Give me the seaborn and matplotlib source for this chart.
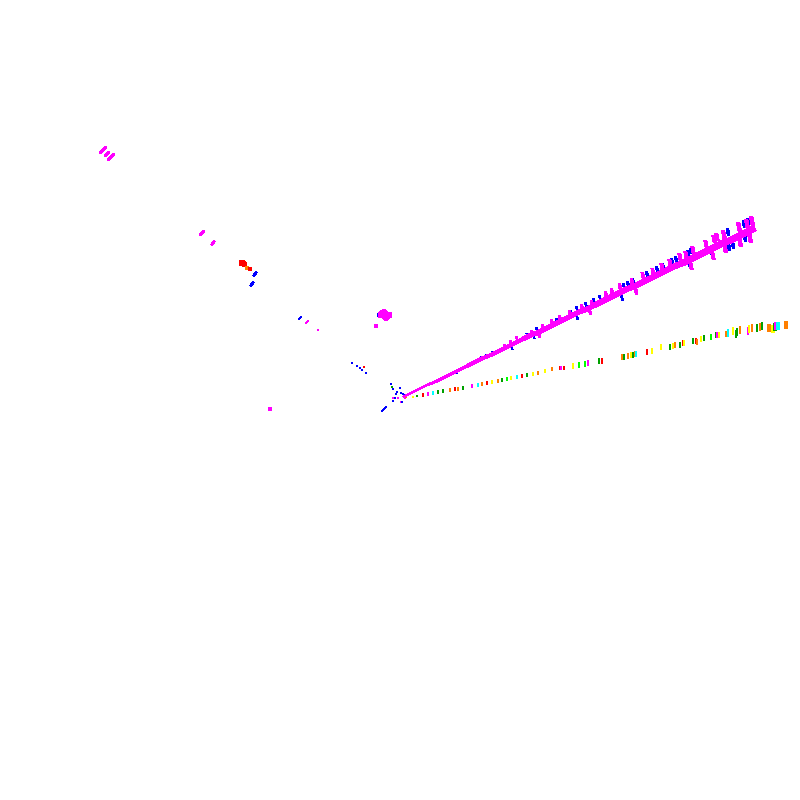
import numpy as np
import pandas as pd
import seaborn as sns
import matplotlib
matplotlib.use('Agg')
import matplotlib.pyplot as plt
from matplotlib.path import Path

# upper streak, centre line
streak_x = [403, 411, 419, 427, 435, 443, 451, 459, 467, 475, 483, 491, 499, 507, 515,
            523, 531, 539, 547, 555, 563, 571, 579, 587, 595, 603, 611, 619, 627, 635,
            643, 651, 659, 667, 675, 683, 691, 699, 707, 715, 723, 731, 739, 747, 755]
streak_y = [397, 393, 389, 385, 382, 378, 374, 370, 366, 362, 358, 355, 351, 347, 343,
            339, 335, 332, 328, 324, 320, 316, 312, 309, 305, 301, 297, 293, 289, 286,
            282, 278, 274, 270, 266, 263, 259, 255, 251, 247, 243, 240, 236, 232, 228]

# short marks either side of the streak
pink_ticks_x = [505, 511, 517, 532, 543, 552, 560, 570, 582, 592, 606, 612, 620, 632,
                643, 653, 662, 670, 680, 686, 693, 706, 714, 717, 724, 739, 747, 752,
                539, 590, 636, 691, 713, 725, 740, 750]
pink_ticks_y = [347, 343, 339, 333, 327, 322, 318, 313, 307, 303, 295, 292, 287, 282,
                276, 272, 267, 263, 257, 255, 250, 244, 239, 237, 235, 227, 224, 221,
                335, 312, 291, 266, 256, 248, 242, 238]
blue_ticks_x = [457, 459, 468, 472, 477, 482, 487, 493, 527, 537, 557, 571, 577, 586,
                594, 600, 620, 624, 628, 633, 647, 657, 663, 672, 676, 688, 691, 728,
                739, 744, 748, 512, 534, 577, 622, 689, 712, 729, 733, 745]
blue_ticks_y = [372, 370, 366, 363, 361, 358, 356, 353, 335, 330, 321, 313, 309, 305,
                301, 298, 287, 286, 284, 281, 274, 269, 266, 261, 259, 253, 251, 232,
                226, 224, 222, 348, 337, 317, 298, 264, 253, 247, 245, 238]

# lower, multicoloured streak
rainbow_x = [413, 417, 423, 428, 433, 438, 443, 450, 455, 458, 463, 472, 478, 482, 487,
             492, 498, 502, 507, 511, 517, 522, 527, 533, 538, 545, 552, 560, 561, 564,
             573, 579, 585, 588, 599, 602, 622, 624, 628, 631, 633, 635, 636, 647, 652,
             661, 670, 673, 675, 680, 683, 684, 693, 696, 697, 701, 704, 711, 716, 717,
             719, 726, 728, 733, 736, 737, 740, 748, 749, 752, 757, 760, 762, 769, 773,
             775, 776, 778, 786]
rainbow_y = [397, 396, 395, 394, 393, 392, 391, 390, 389, 389, 388, 386, 385, 384, 383,
             382, 381, 380, 379, 378, 377, 376, 375, 374, 373, 371, 369, 368, 368, 368,
             366, 365, 364, 363, 361, 361, 357, 357, 356, 355, 355, 354, 354, 352, 351,
             347, 347, 346, 345, 345, 343, 343, 341, 341, 342, 339, 338, 337, 335, 335,
             335, 334, 333, 331, 334, 332, 330, 331, 329, 328, 328, 327, 326, 328, 329,
             327, 326, 326, 325]
rainbow_hue = ['yellow', 'green', 'red', 'magenta', 'cyan', 'green', 'green', 'orange', 'red', 'orange',
               'green', 'magenta', 'cyan', 'orange', 'red', 'yellow', 'orange', 'green', 'lime', 'yellow',
               'cyan', 'red', 'green', 'yellow', 'orange', 'yellow', 'orange', 'red', 'magenta', 'red',
               'yellow', 'lime', 'lime', 'magenta', 'green', 'red', 'orange', 'green', 'orange', 'yellow',
               'green', 'orange', 'cyan', 'red', 'yellow', 'yellow', 'green', 'yellow', 'orange', 'green',
               'red', 'yellow', 'green', 'red', 'orange', 'yellow', 'green', 'lime', 'green', 'magenta',
               'yellow', 'orange', 'cyan', 'yellow', 'green', 'green', 'orange', 'magenta', 'yellow', 'orange',
               'green', 'orange', 'green', 'orange', 'yellow', 'green', 'magenta', 'cyan', 'orange']

# diagonal dashes in the stray clusters
dash_x = [103, 107, 111, 202, 213, 255, 252, 300, 307, 383, 385]
dash_y = [150, 154, 157, 233, 243, 274, 284, 318, 322, 410, 408]
dash_hue = ['magenta', 'magenta', 'magenta', 'magenta', 'magenta', 'blue', 'blue',
            'blue', 'magenta', 'blue', 'blue']
dash_size = [8, 6, 8, 6, 5, 5, 5, 3, 4, 4, 4]

# round blobs and single pixels
dot_x = [242, 244, 247, 250, 318, 270, 376, 379, 381, 383, 385, 387, 389, 384, 386,
         352, 357, 360, 362, 366, 364, 391, 392, 393, 397, 400, 401, 403, 396, 404,
         393, 395, 398, 401, 402, 393, 405, 406]
dot_y = [263, 264, 268, 269, 330, 409, 326, 315, 315, 314, 315, 316, 315, 312, 318,
         363, 366, 368, 370, 373, 367, 384, 387, 389, 392, 388, 393, 394, 394, 395,
         398, 398, 398, 402, 402, 401, 398, 397]
dot_hue = ['red', 'red', 'orange', 'red', 'magenta', 'magenta', 'magenta', 'blue', 'magenta',
           'magenta', 'magenta', 'magenta', 'magenta', 'magenta', 'magenta',
           'blue', 'blue', 'blue', 'blue', 'blue', 'red', 'blue', 'green', 'blue', 'blue',
           'blue', 'blue', 'blue', 'blue', 'blue', 'magenta', 'blue', 'magenta', 'magenta',
           'blue', 'blue', 'magenta', 'orange']
dot_size = [6, 5, 4, 4, 2, 3, 3, 3, 6, 8, 8, 7, 6, 5, 5,
            2, 2, 2, 2, 2, 2, 2, 2, 2, 2, 2, 2, 2, 2, 2,
            2, 2, 2, 2, 2, 2, 2, 2]

colors = {'red': '#ff0000', 'orange': '#ff7f00', 'yellow': '#ffff00', 'lime': '#00ff00',
          'green': '#00a000', 'cyan': '#00ffff', 'magenta': '#ff00ff', 'blue': '#0000ff'}

# marks get bigger further from the point where the streaks meet
origin_x = 403
slant = Path([(-0.6, 1), (0.2, 1), (0.6, -1), (-0.2, -1), (-0.6, 1)], closed=True)
bar = Path([(-0.4, -1), (0.4, -1), (0.4, 1), (-0.4, 1), (-0.4, -1)], closed=True)
dash = Path([(-1, -0.6), (-0.5, -1), (1, 0.6), (0.5, 1), (-1, -0.6)], closed=True)


def px_to_s(px):
    return (np.asarray(px) * 0.72) ** 2


def draw(ax, x, y, hue, size_px, marker):
    df = pd.DataFrame({'x': x, 'y': y, 'hue': hue})
    pts = sns.scatterplot(data=df, x='x', y='y', hue='hue', palette=colors, legend=False,
                          marker=marker, s=px_to_s(size_px), linewidth=0, ax=ax)
    pts.collections[-1].set_antialiased(False)


sns.set_theme(style='white')
fig = plt.figure(figsize=(8, 8), dpi=100)
ax = fig.add_axes([0, 0, 1, 1])

blue_size = 2.5 + (np.array(blue_ticks_x) - origin_x) / 352 * 4
pink_size = 3 + (np.array(pink_ticks_x) - origin_x) / 352 * 5.5
draw(ax, blue_ticks_x, blue_ticks_y, ['blue'] * len(blue_ticks_x), blue_size, slant)
draw(ax, pink_ticks_x, pink_ticks_y, ['magenta'] * len(pink_ticks_x), pink_size, slant)

for i in range(len(streak_x) - 1):
    width_px = 0.32 * np.sqrt(streak_x[i] - origin_x + 8)
    line = sns.lineplot(x=streak_x[i:i + 2], y=streak_y[i:i + 2], color=colors['magenta'],
                        linewidth=width_px * 0.72, estimator=None, sort=False, ax=ax)
    line.lines[-1].set_antialiased(False)
    line.lines[-1].set_solid_capstyle('butt')

draw(ax, rainbow_x, rainbow_y, rainbow_hue, 2.8 + (np.array(rainbow_x) - origin_x) / 385 * 5, bar)
draw(ax, dash_x, dash_y, dash_hue, dash_size, dash)
draw(ax, dot_x, dot_y, dot_hue, dot_size, 'o')

ax.set_xlim(0, 800)
ax.set_ylim(800, 0)
ax.axis('off')
fig.savefig('out.png', dpi=100, facecolor='white')
